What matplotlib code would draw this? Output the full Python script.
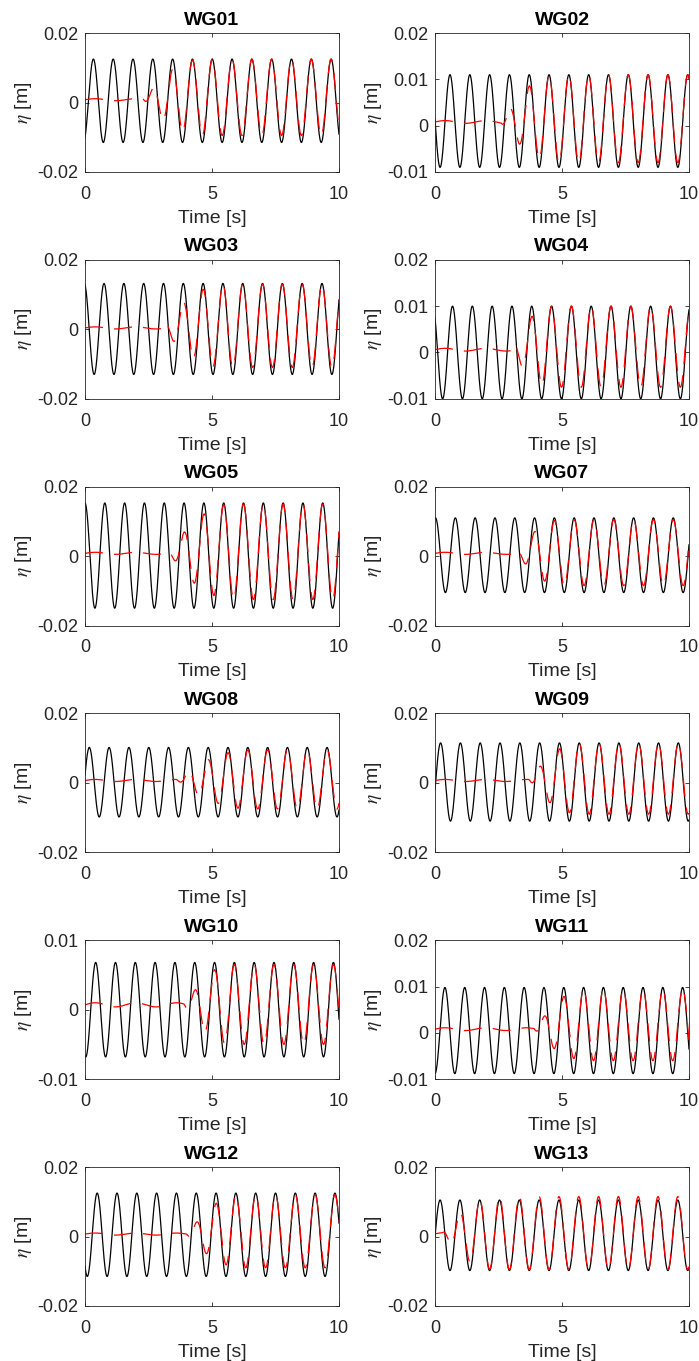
import numpy as np
import matplotlib
matplotlib.use('Agg')
import matplotlib.pyplot as plt

plt.rcParams['font.family'] = ['Liberation Sans', 'DejaVu Sans']
plt.rcParams['mathtext.fontset'] = 'stix'
plt.rcParams['axes.unicode_minus'] = False
plt.rcParams['lines.scale_dashes'] = False

## values ##

gauges = ['WG01', 'WG02', 'WG03', 'WG04', 'WG05', 'WG07',
          'WG08', 'WG09', 'WG10', 'WG11', 'WG12', 'WG13']

y_low = [-0.02, -0.01, -0.02, -0.01, -0.02, -0.02,
         -0.02, -0.02, -0.01, -0.01, -0.02, -0.02]
y_high = [0.02, 0.02, 0.02, 0.02, 0.02, 0.02,
          0.02, 0.02, 0.01, 0.02, 0.02, 0.02]

# measured (black)
crest = [0.0125, 0.011, 0.0132, 0.010, 0.0153, 0.011,
         0.0102, 0.0115, 0.0068, 0.0098, 0.0125, 0.0105]
trough = [-0.0115, -0.009, -0.013, -0.010, -0.015, -0.0105,
          -0.0098, -0.011, -0.0068, -0.0088, -0.0115, -0.0098]
first_crest = [0.33, 0.59, 0.75, 0.69, 0.0, 0.02,
               0.17, 0.22, 0.42, 0.39, 0.48, 0.20]
period = 0.78

# simulated (red dashed)
red_crest = [0.0125, 0.011, 0.013, 0.010, 0.015, 0.0105,
             0.0095, 0.0115, 0.0065, 0.0095, 0.012, 0.0115]
red_trough = [-0.0095, -0.008, -0.011, -0.0075, -0.0125, -0.0085,
              -0.0075, -0.009, -0.005, -0.006, -0.009, -0.0095]
red_start = [2.3, 2.6, 3.0, 3.0, 3.3, 3.2, 3.6, 3.7, 3.9, 3.9, 4.0, 0.3]
red_full = [4.6, 4.8, 5.5, 4.6, 5.8, 5.0, 6.5, 5.7, 5.8, 6.0, 6.2, 2.3]
red_base = [0.0008, 0.0008, 0.0004, 0.0006, 0.0008, 0.0008,
            0.0007, 0.0007, 0.0007, 0.0008, 0.0007, 0.0008]

t = np.linspace(0, 10, 2001)

fig = plt.figure(figsize=(6.99, 13.61), dpi=100)

W, H = 699, 1361
col_left = [85, 435]
ax_w = 254
ax_h = 139
row_top = [33 + 226.8 * r for r in range(6)]

for i, name in enumerate(gauges):
    r, c = divmod(i, 2)
    ax = fig.add_axes([col_left[c] / W, 1 - (row_top[r] + ax_h) / H,
                       ax_w / W, ax_h / H])

    ph = 2 * np.pi * (t - first_crest[i]) / period
    amp = (crest[i] - trough[i]) / 2
    mid = (crest[i] + trough[i]) / 2
    black = mid + amp * np.cos(ph)

    s = np.clip((t - red_start[i]) / (red_full[i] - red_start[i]), 0, 1)
    env = s * (2 - s)
    r_amp = (red_crest[i] - red_trough[i]) / 2
    r_mid = (red_crest[i] + red_trough[i]) / 2
    pre = red_base[i] + 0.0003 * np.sin(2 * np.pi * t / 1.6)
    red = pre * (1 - env) + env * (r_mid + r_amp * np.cos(ph))

    ax.plot(t, black, color='black', lw=0.9)
    ax.plot(t, red, color='red', lw=0.9, dashes=(13, 8))

    ax.set_xlim(0, 10)
    ax.set_ylim(y_low[i], y_high[i])
    ax.set_xticks([0, 5, 10])
    if y_low[i] == -0.02:
        ax.set_yticks([-0.02, 0, 0.02])
    elif y_high[i] == 0.02:
        ax.set_yticks([-0.01, 0, 0.01, 0.02])
    else:
        ax.set_yticks([-0.01, 0, 0.01])
    ax.yaxis.set_major_formatter(matplotlib.ticker.FormatStrFormatter('%g'))
    ax.xaxis.set_major_formatter(matplotlib.ticker.FormatStrFormatter('%g'))
    ax.tick_params(direction='in', top=True, right=True, length=3,
                   width=0.6, labelsize=13, colors='#262626')
    ax.tick_params(axis='x', pad=10)
    ax.tick_params(axis='y', pad=5)
    for sp in ax.spines.values():
        sp.set_linewidth(0.6)
        sp.set_color('#262626')
    ax.set_title(name, fontsize=14, fontweight='bold', pad=6)
    ax.set_xlabel('Time [s]', fontsize=14, labelpad=5, color='#262626')
    ax.set_ylabel(r'$\eta$ [m]', fontsize=14, labelpad=2, color='#262626')

fig.savefig('out.png', dpi=100)
